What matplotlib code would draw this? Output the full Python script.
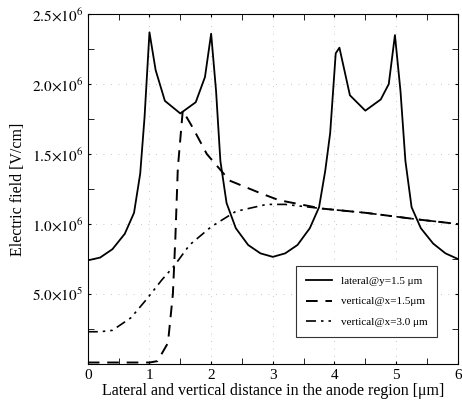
import numpy as np
import matplotlib
matplotlib.use("Agg")
import matplotlib.pyplot as plt
from matplotlib.ticker import MultipleLocator, FixedLocator, FuncFormatter

plt.rcParams['font.family'] = ['Liberation Serif', 'DejaVu Serif']
plt.rcParams['mathtext.fontset'] = 'stix'

# lateral@y=1.5 um
x_lat = [0, 0.1, 0.2, 0.4, 0.6, 0.75, 0.85, 0.92, 1.0, 1.1, 1.25, 1.5, 1.75, 1.9, 2.0,
         2.08, 2.15, 2.25, 2.4, 2.6, 2.8, 3.0, 3.2, 3.4, 3.6, 3.75, 3.85, 3.93, 4.02,
         4.08, 4.25, 4.5, 4.75, 4.88, 4.98, 5.07, 5.15, 5.25, 5.4, 5.6, 5.8, 6.0]
y_lat = [0.74, 0.75, 0.76, 0.82, 0.93, 1.08, 1.36, 1.76, 2.37, 2.1, 1.88, 1.79, 1.87, 2.05, 2.36,
         1.95, 1.45, 1.15, 0.97, 0.85, 0.79, 0.765, 0.79, 0.85, 0.97, 1.12, 1.38, 1.65, 2.22,
         2.26, 1.92, 1.81, 1.89, 2.0, 2.35, 1.95, 1.45, 1.12, 0.97, 0.86, 0.79, 0.75]

# vertical@x=1.5 um
x_v15 = [0, 0.5, 1.0, 1.13, 1.3, 1.38, 1.42, 1.46, 1.54, 1.7, 1.93, 2.3, 2.8, 3.1, 3.8, 4.5, 5.4, 6.0]
y_v15 = [0.01, 0.01, 0.01, 0.02, 0.15, 0.5, 0.9, 1.4, 1.81, 1.69, 1.5, 1.31, 1.22, 1.17, 1.11, 1.08, 1.03, 1.0]

# vertical@x=3.0 um
x_v30 = [0, 0.2, 0.4, 0.7, 0.95, 1.2, 1.4, 1.65, 2.0, 2.4, 2.9, 3.2, 3.8, 4.5, 5.4, 6.0]
y_v30 = [0.23, 0.23, 0.24, 0.33, 0.46, 0.6, 0.70, 0.85, 0.98, 1.09, 1.14, 1.14, 1.11, 1.08, 1.03, 1.0]

labels = ["lateral@y=1.5 \u03bcm", "vertical@x=1.5\u03bcm", "vertical@x=3.0 \u03bcm"]

fig = plt.figure(figsize=(4.62, 4.03), dpi=100)
ax = fig.add_axes([0.19, 0.097, 0.801, 0.868])

ax.plot(x_lat, np.array(y_lat) * 1e6, '-k', lw=1.3, label=labels[0])
ax.plot(x_v15, np.array(y_v15) * 1e6, '--k', lw=1.4, dashes=[6, 4], label=labels[1])
ax.plot(x_v30, np.array(y_v30) * 1e6, color='k', lw=1.2, dashes=[6, 3, 1.5, 3, 1.5, 3], label=labels[2])

ax.set_xlim(0, 6)
ax.set_ylim(0, 2.5e6)
ax.xaxis.set_major_locator(MultipleLocator(1))
ax.xaxis.set_minor_locator(MultipleLocator(0.5))
ax.yaxis.set_major_locator(FixedLocator([0.5e6, 1.0e6, 1.5e6, 2.0e6, 2.5e6]))
ax.yaxis.set_minor_locator(MultipleLocator(0.25e6))


def sci(v, pos):
    e = int(np.floor(np.log10(v)))
    m = v / 10 ** e
    return r'$%.1f{\times}10^{%d}$' % (m, e)


ax.yaxis.set_major_formatter(FuncFormatter(sci))
ax.tick_params(which='both', direction='in', top=True, right=True, labelsize=11)
ax.tick_params(which='major', length=2)
ax.tick_params(which='minor', length=4)
ax.grid(True, which='major', linestyle=(0, (1, 8)), color='0.7', lw=0.6)

ax.set_xlabel("Lateral and vertical distance in the anode region [\u03bcm]", fontsize=11.5, labelpad=1)
ax.set_ylabel("Electric field [V/cm]", fontsize=11.5)

leg = ax.legend(loc='lower right', bbox_to_anchor=(0.96, 0.06), fontsize=8, frameon=True,
                fancybox=False, edgecolor='k', handlelength=2.3, labelspacing=1.0, borderpad=0.9)
leg.get_frame().set_linewidth(0.8)

plt.savefig("out.png", dpi=100)
